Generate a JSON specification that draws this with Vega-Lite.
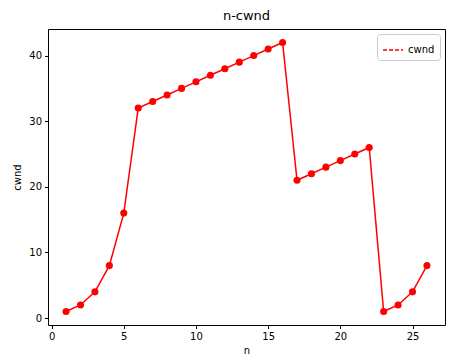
{
  "$schema": "https://vega.github.io/schema/vega-lite/v6.json",
  "width": 397,
  "height": 296,
  "autosize": {"type": "none"},
  "padding": {"left": 48, "top": 29, "right": 24, "bottom": 31},
  "background": "white",
  "title": {"text": "n-cwnd", "fontSize": 13, "fontWeight": "normal", "font": "DejaVu Sans", "offset": 6, "color": "black"},
  "config": {
    "view": {"stroke": "black", "strokeWidth": 1},
    "axis": {
      "domain": false, "grid": false, "tickColor": "black", "tickSize": 3.5,
      "labelFont": "DejaVu Sans", "labelFontSize": 10, "labelColor": "black",
      "titleFont": "DejaVu Sans", "titleFontSize": 10, "titleFontWeight": "normal", "titleColor": "black",
      "labelPadding": 3
    },
    "legend": {
      "labelFont": "DejaVu Sans", "labelFontSize": 10, "labelColor": "black"
    }
  },
  "data": {"values": [
    {"n": 1, "cwnd": 1, "s": "cwnd"},
    {"n": 2, "cwnd": 2, "s": "cwnd"},
    {"n": 3, "cwnd": 4, "s": "cwnd"},
    {"n": 4, "cwnd": 8, "s": "cwnd"},
    {"n": 5, "cwnd": 16, "s": "cwnd"},
    {"n": 6, "cwnd": 32, "s": "cwnd"},
    {"n": 7, "cwnd": 33, "s": "cwnd"},
    {"n": 8, "cwnd": 34, "s": "cwnd"},
    {"n": 9, "cwnd": 35, "s": "cwnd"},
    {"n": 10, "cwnd": 36, "s": "cwnd"},
    {"n": 11, "cwnd": 37, "s": "cwnd"},
    {"n": 12, "cwnd": 38, "s": "cwnd"},
    {"n": 13, "cwnd": 39, "s": "cwnd"},
    {"n": 14, "cwnd": 40, "s": "cwnd"},
    {"n": 15, "cwnd": 41, "s": "cwnd"},
    {"n": 16, "cwnd": 42, "s": "cwnd"},
    {"n": 17, "cwnd": 21, "s": "cwnd"},
    {"n": 18, "cwnd": 22, "s": "cwnd"},
    {"n": 19, "cwnd": 23, "s": "cwnd"},
    {"n": 20, "cwnd": 24, "s": "cwnd"},
    {"n": 21, "cwnd": 25, "s": "cwnd"},
    {"n": 22, "cwnd": 26, "s": "cwnd"},
    {"n": 23, "cwnd": 1, "s": "cwnd"},
    {"n": 24, "cwnd": 2, "s": "cwnd"},
    {"n": 25, "cwnd": 4, "s": "cwnd"},
    {"n": 26, "cwnd": 8, "s": "cwnd"}
  ]},
  "encoding": {
    "x": {"field": "n", "type": "quantitative", "scale": {"domain": [-0.25, 27.25], "nice": false, "zero": false},
          "axis": {"values": [0, 5, 10, 15, 20, 25], "title": "n", "titlePadding": 4}},
    "y": {"field": "cwnd", "type": "quantitative", "scale": {"domain": [-1.05, 44.05], "nice": false, "zero": false},
          "axis": {"values": [0, 10, 20, 30, 40], "title": "cwnd", "titlePadding": 6}}
  },
  "layer": [
    {
      "mark": {"type": "line", "strokeWidth": 1.5},
      "encoding": {
        "color": {"field": "s", "type": "nominal", "scale": {"range": ["red"]},
          "legend": {"title": null, "orient": "top-right", "offset": 5, "symbolType": "stroke", "symbolDash": [4, 2],
                     "symbolStrokeWidth": 1.5, "symbolSize": 400, "fillColor": "white", "strokeColor": "#cccccc",
                     "padding": 5, "cornerRadius": 3}}
      }
    },
    {
      "mark": {"type": "point", "filled": true, "size": 50, "color": "red", "opacity": 1}
    }
  ]
}
